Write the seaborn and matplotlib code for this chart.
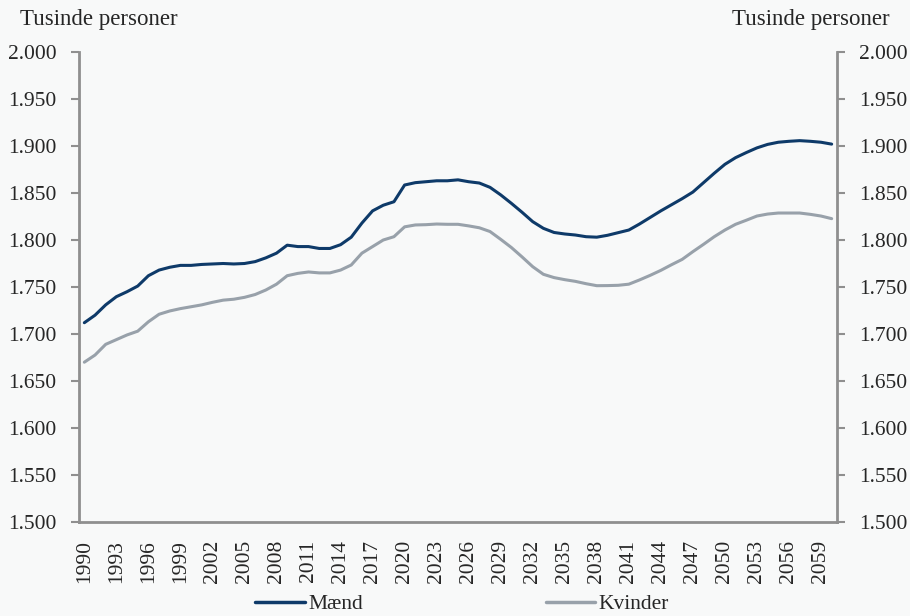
import matplotlib
matplotlib.use("Agg")
import matplotlib.pyplot as plt
import seaborn as sns
import pandas as pd
import numpy as np

years = list(range(1990, 2061))

maend = [1712, 1720, 1731, 1739.7, 1745, 1751, 1762, 1768, 1771, 1773,
         1773, 1774, 1774.5, 1775, 1774.5, 1775, 1777, 1781, 1786, 1794.5,
         1793, 1793, 1791, 1791, 1795, 1803, 1818, 1831, 1837, 1840.7,
         1858.5, 1861, 1862, 1863, 1863, 1864, 1862, 1860.6, 1856, 1848,
         1839, 1829.5, 1819.5, 1812.4, 1808, 1806.4, 1805.3, 1803.5, 1803, 1805,
         1807.8, 1810.6, 1817, 1824, 1831, 1837.5, 1844, 1851, 1861, 1871,
         1880.5, 1887.6, 1893, 1898, 1901.7, 1904, 1905, 1905.7, 1905, 1904,
         1902]

kvinder = [1670, 1677.6, 1689, 1694, 1699, 1703, 1713, 1721, 1724.5, 1727,
           1729, 1731, 1733.7, 1736, 1737, 1739, 1742, 1746.8, 1753, 1762,
           1764.5, 1766, 1765, 1765, 1768, 1773.4, 1786, 1793, 1800, 1803.5,
           1814, 1816, 1816.3, 1817, 1816.7, 1816.7, 1815, 1813, 1809, 1800.7,
           1792, 1782, 1771.6, 1763.5, 1760, 1757.8, 1756, 1753.5, 1751.4, 1751.5,
           1751.8, 1753, 1757.5, 1762.4, 1767.7, 1773.7, 1779.4, 1787.6, 1795.4, 1803.5,
           1810.6, 1816.7, 1821, 1825.5, 1827.6, 1828.7, 1828.7, 1828.7, 1827.3, 1825.5,
           1822.7]

series_names = ["Mænd", "Kvinder"]
colors = ["#0e3a69", "#98a1aa"]
y_ticks = [1500, 1550, 1600, 1650, 1700, 1750, 1800, 1850, 1900, 1950, 2000]
y_labels = ["1.500", "1.550", "1.600", "1.650", "1.700", "1.750", "1.800",
            "1.850", "1.900", "1.950", "2.000"]
axis_title = "Tusinde personer"

sns.set_style("white")
plt.rcParams["font.family"] = ["Liberation Serif", "DejaVu Serif"]
FS = 15.5
bg = "#f8f9f9"
spine_c = "#8f8f8f"

df = pd.DataFrame({
    "idx": list(range(len(years))) * 2,
    "value": maend + kvinder,
    "serie": [series_names[0]] * len(years) + [series_names[1]] * len(years),
})

fig = plt.figure(figsize=(9.10, 6.16), dpi=100, facecolor=bg)
ax = fig.add_axes([79 / 910, 1 - 522 / 616, (837 - 79) / 910, (522 - 52) / 616])
ax.set_facecolor(bg)

sns.lineplot(data=df, x="idx", y="value", hue="serie", palette=colors,
             hue_order=series_names, linewidth=2.2, ax=ax, legend=False)

n = len(years)
ax.set_xlim(-0.5, n - 0.5)
ax.set_ylim(1500, 2000)
ax.set_yticks(y_ticks)
ax.set_yticklabels(y_labels, fontsize=FS)
ax.set_xlabel("")
ax.set_ylabel("")

label_idx = list(range(0, n - 1, 3))
ax.set_xticks(label_idx)
ax.set_xticklabels([str(years[i]) for i in label_idx], rotation=90, fontsize=FS)
ax.set_xticks(list(np.arange(-0.5, n, 12)), minor=True)
ax.tick_params(axis="x", which="major", length=0, pad=13)
ax.tick_params(axis="x", which="minor", length=6, width=1.5, color=spine_c, direction="out")
ax.tick_params(axis="y", length=6, width=1.5, color=spine_c, direction="out", pad=10, left=True)

ax2 = ax.twinx()
ax2.set_ylim(1500, 2000)
ax2.set_yticks(y_ticks)
ax2.set_yticklabels(y_labels, fontsize=FS)
ax2.tick_params(axis="y", length=6, width=1.5, color=spine_c, direction="out", pad=10, right=True)

for a in (ax, ax2):
    a.spines["top"].set_visible(False)
    for s in ("left", "right", "bottom"):
        a.spines[s].set_color(spine_c)
        a.spines[s].set_linewidth(2)
ax.spines["right"].set_visible(False)
ax2.spines["left"].set_visible(False)
ax2.spines["bottom"].set_visible(False)

fig.text(20 / 910, 1 - 20 / 616, axis_title, fontsize=16.5, ha="left", va="center")
fig.text(890 / 910, 1 - 20 / 616, axis_title, fontsize=16.5, ha="right", va="center")

handles = [plt.Line2D([], [], color=c, linewidth=2.5) for c in colors]
fig.legend(handles, series_names, loc="center", bbox_to_anchor=(462 / 910, 1 - 604 / 616),
           ncol=2, frameon=False, fontsize=FS, handlelength=2.3, handletextpad=0.15,
           columnspacing=8.5, borderaxespad=0, borderpad=0)

fig.savefig("out.png", dpi=100, facecolor=bg)
